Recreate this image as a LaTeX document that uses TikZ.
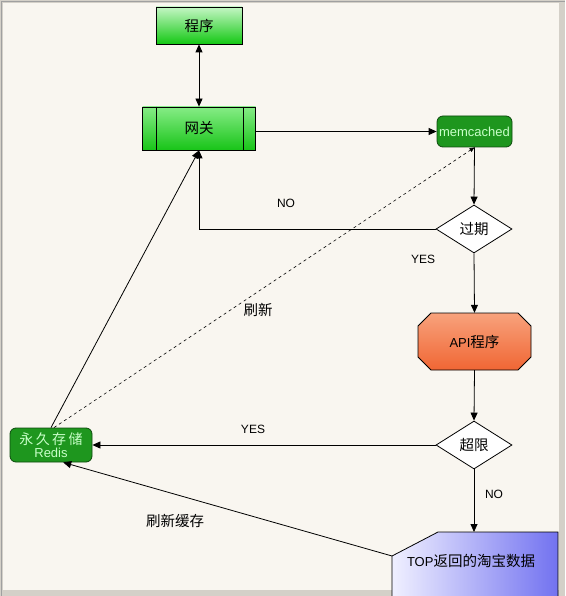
\documentclass[tikz,border=0pt]{standalone}
\usepackage{fontspec}
\setmainfont{Liberation Sans}
\newfontfamily\cjk{Noto Sans CJK SC}
\usetikzlibrary{shapes.geometric,arrows.meta,calc}
\definecolor{bg}{HTML}{F9F6F0}
\definecolor{framegray}{HTML}{D4D0C8}
\definecolor{framedark}{HTML}{A0A0A0}
\definecolor{darkgreen}{HTML}{1E961E}
\definecolor{textgreen}{HTML}{C8FFC8}
\definecolor{edgegreen}{HTML}{0E4A0E}
\definecolor{progtop}{HTML}{C4F6C4}
\definecolor{progbot}{HTML}{14C814}
\definecolor{gwtop}{HTML}{86EC86}
\definecolor{gwbot}{HTML}{18C418}
\definecolor{apitop}{HTML}{F8A27C}
\definecolor{apibot}{HTML}{F06634}
\definecolor{topleft}{HTML}{F0F0FF}
\definecolor{topright}{HTML}{7272F0}
\newcommand{\cjkfont}{\cjk\fontsize{14.5}{16}\selectfont}
\begin{document}
\begin{tikzpicture}[x=1pt,y=-1pt,
  font=\fontsize{12}{14}\selectfont,
  arr/.style={-{Triangle[length=8pt,width=7pt]}, line width=0.8pt},
  plain/.style={line width=0.8pt},
  greenbox/.style={draw=black, line width=0.8pt, rectangle, inner sep=0pt},
  darkbox/.style={draw=edgegreen, line width=0.8pt, rectangle, rounded corners=6pt, fill=darkgreen, text=textgreen, inner sep=0pt, font=\fontsize{13}{15}\selectfont},
  dia/.style={draw=black, line width=0.8pt, diamond, fill=white, inner sep=0pt, minimum width=76pt, minimum height=48pt, font=\cjkfont},
  lbl/.style={font=\fontsize{12}{14}\selectfont, text=black}
]
\useasboundingbox (0,0) rectangle (565,596);
% background and frame
\fill[framegray] (0,0) rectangle (565,596);
\fill[bg] (3,3) rectangle (559,590);
\draw[framedark, line width=1pt] (1.5,596) -- (1.5,1.5) -- (565,1.5);

% nodes
\node[greenbox, minimum width=86pt, minimum height=37pt, top color=progtop, bottom color=progbot, font=\cjkfont] (prog) at (199,25.5) {程序};
\node[greenbox, minimum width=113pt, minimum height=43pt, top color=gwtop, bottom color=gwbot, font=\cjkfont] (gw) at (199,128.5) {网关};
\draw[line width=0.8pt] ([xshift=14pt]gw.north west) -- ([xshift=14pt]gw.south west);
\draw[line width=0.8pt] ([xshift=-13pt]gw.north east) -- ([xshift=-13pt]gw.south east);

\node[darkbox, minimum width=75pt, minimum height=31pt] (mem) at (474.5,131.5) {memcached};
\node[dia] (exp) at (474,229) {过期};

% API octagon
\shade[top color=apitop, bottom color=apibot, draw=black, line width=0.8pt]
  (431,313) -- (518,313) -- (531,326) -- (531,357) -- (518,370) -- (431,370) -- (418,357) -- (418,326) -- cycle;
\node[minimum width=113pt, minimum height=57pt, inner sep=0pt, font=\fontsize{13}{15}\selectfont] (api) at (474.5,341.5) {API{\cjkfont 程序}};

\node[dia] (lim) at (474,445) {超限};

\node[darkbox, minimum width=82pt, minimum height=34pt, align=center] (redis) at (51,445)
  {{\cjk\fontsize{14}{15}\selectfont 永\,久\,存\,储}\\[-2pt]Redis};

% TOP shape
\shade[left color=topleft, right color=topright, draw=black, line width=0.8pt]
  (392,596) -- (392,556) -- (438,532) -- (558,532) -- (558,596);
\coordinate (topN) at (474,532);
\coordinate (topL) at (392,556);
\node[inner sep=0pt, font=\fontsize{13}{15}\selectfont] (top) at (471,561) {TOP{\cjkfont 返回的淘宝数据}};

% connectors
\draw[plain, {Triangle[length=8pt,width=7pt]}-{Triangle[length=8pt,width=7pt]}] (prog.south) -- (gw.north);
\draw[arr] (gw.east |- mem.west) -- (mem.west);
\draw[arr] (mem.south) -- (exp.north);
\draw[arr] (exp.west) -| (gw.south);
\draw[arr] (exp.south) -- (api.north);
\draw[arr] (api.south) -- (lim.north);
\draw[arr] (lim.west) -- (redis.east);
\draw[arr] (lim.south) -- (topN);
\draw[arr] (topL) -- (redis.-55);
\draw[arr] (redis.north) -- (gw.south);
\draw[line width=0.6pt, dashed, -{Triangle[length=5pt,width=4pt]}] ([xshift=3pt]redis.north) -- (mem.south);

% labels
\node[lbl] (lno1) at (286,203) {NO};
\node[lbl] (lyes1) at (423,259) {YES};
\node[lbl, font=\cjkfont] (lsx) at (258,310) {刷新};
\node[lbl] (lyes2) at (253,429) {YES};
\node[lbl] (lno2) at (494,494) {NO};
\node[lbl, font=\cjkfont] (lsxhc) at (175,521) {刷新缓存};
\end{tikzpicture}
\end{document}
